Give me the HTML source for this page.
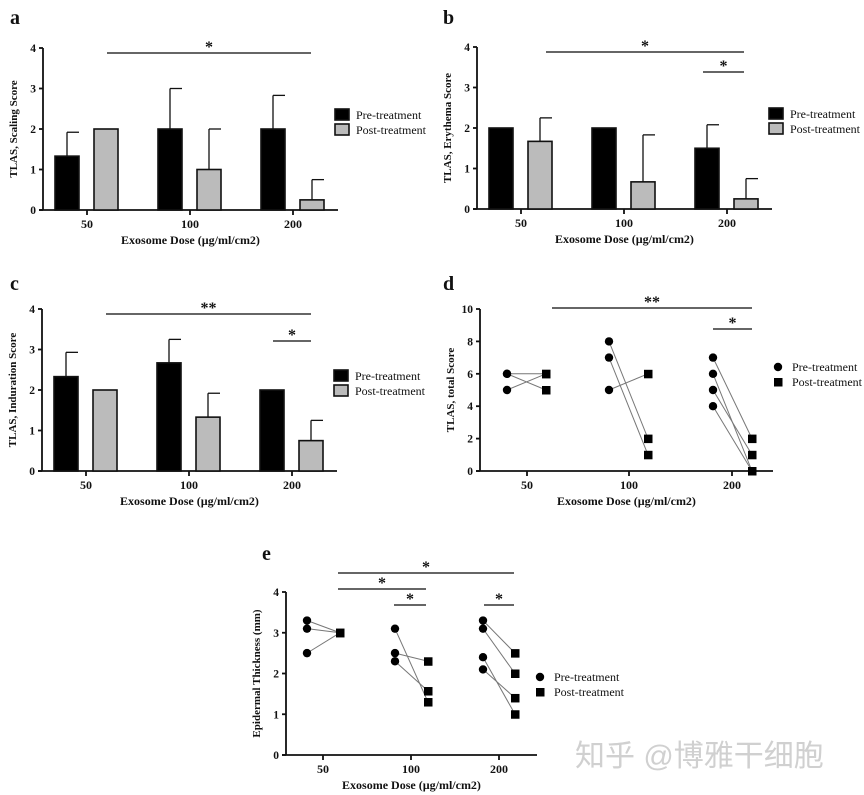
<!DOCTYPE html>
<html><head><meta charset="utf-8"><style>
html,body{margin:0;padding:0;background:#fff;width:864px;height:795px;overflow:hidden}
svg{display:block}
text{font-family:"Liberation Serif",serif;font-weight:bold;fill:#111}
</style></head><body>
<svg id="s" width="864" height="795" xmlns="http://www.w3.org/2000/svg"></svg>
<script>
var o='';
function L(x1,y1,x2,y2,w,c){o+='<line x1="'+x1+'" y1="'+y1+'" x2="'+x2+'" y2="'+y2+'" stroke="'+(c||'#111')+'" stroke-width="'+(w||1.8)+'"/>';}
function T(x,y,s,sz,a,ex){o+='<text x="'+x+'" y="'+y+'" font-size="'+(sz||12)+'" text-anchor="'+(a||'middle')+'" '+(ex||'')+'>'+s+'</text>';}
function R(x,y,w,h,f){o+='<rect x="'+x+'" y="'+y+'" width="'+w+'" height="'+h+'" fill="'+f+'" stroke="#111" stroke-width="1.6"/>';}
function axes(ax,top,bot,max,step,ytitle,xend,ticks){
  L(ax,top,ax,bot);L(ax-4,bot,xend,bot);
  var n=max/step;
  for(var i=0;i<=n;i++){var y=bot-(bot-top)*i/n;L(ax-4,y,ax,y);T(ax-7,y+4,i*step,11.5,'end');}
  ticks.forEach(function(t){L(t[0],bot,t[0],bot+5);T(t[0],bot+18,t[1],12);});
  var mx=(ax+xend)/2;T(mx,bot+34,'Exosome Dose (µg/ml/cm2)',12);
  var cy=(top+bot)/2;T(0,0,ytitle,11,'middle','transform="translate('+(ax-26)+','+cy+') rotate(-90)"');
}
function sig(x1,x2,y,s){L(x1,y,x2,y,1.4,'#333');T((x1+x2)/2,y-1,s,16);}
function barPanel(ax,top,bot,data,ytitle,sigs){
  var sc=(bot-top)/4;
  axes(ax,top,bot,4,1,ytitle,ax+295,[[ax+44,'50'],[ax+147,'100'],[ax+250,'200']]);
  data.forEach(function(d,g){
    var px=ax+12+g*103,qx=ax+51+g*103;
    [[px,d[0],d[1],'#000'],[qx,d[2],d[3],'#bbb']].forEach(function(b){
      var h=b[1]*sc;
      if(b[2]){var ey=bot-b[2]*sc;L(b[0]+12,bot-h,b[0]+12,ey,1.3);L(b[0]+12,ey,b[0]+24,ey,1.3);}
      R(b[0],bot-h,24,h,b[3]);
    });
  });
  sigs.forEach(function(s){sig(s[0],s[1],s[2],s[3]);});
  var ly=(top+bot)/2-20;
  R(ax+292,ly,14,11,'#000');T(ax+313,ly+10,'Pre-treatment',12,'start','style="font-weight:normal"');
  R(ax+292,ly+15,14,11,'#bbb');T(ax+313,ly+25,'Post-treatment',12,'start','style="font-weight:normal"');
}
T(10,24,'a',20,'start');
barPanel(43,48,210,[[1.33,1.92,2,0],[2,3,1,2],[2,2.83,0.25,0.75]],'TLAS, Scaling Score',[[107,311,53,'*']]);
T(443,24,'b',20,'start');
barPanel(477,47,209,[[2,0,1.67,2.25],[2,0,0.67,1.83],[1.5,2.08,0.25,0.75]],'TLAS, Erythema Score',[[546,744,52,'*'],[703,744,72,'*']]);
T(10,290,'c',20,'start');
barPanel(42,309,471,[[2.33,2.93,2,0],[2.67,3.25,1.33,1.92],[2,0,0.75,1.25]],'TLAS, Induration Score',[[106,311,314,'**'],[273,311,341,'*']]);
function scatter(ax,top,bot,max,step,xend,ticks,ytitle,groups,sigs,lx,ly){
  axes(ax,top,bot,max,step,ytitle,xend,ticks);
  var sc=(bot-top)/max;
  groups.forEach(function(g){g.p.forEach(function(p){L(g.x1,bot-p[0]*sc,g.x2,bot-p[1]*sc,1,'#777');});});
  groups.forEach(function(g){g.p.forEach(function(p){
    o+='<circle cx="'+g.x1+'" cy="'+(bot-p[0]*sc)+'" r="4.2" fill="#000"/>';
    o+='<rect x="'+(g.x2-4)+'" y="'+(bot-p[1]*sc-4)+'" width="8.5" height="8.5" fill="#000"/>';});});
  sigs.forEach(function(s){sig(s[0],s[1],s[2],s[3]);});
  o+='<circle cx="'+lx+'" cy="'+ly+'" r="4.2" fill="#000"/>';
  o+='<rect x="'+(lx-4)+'" y="'+(ly+11)+'" width="8.5" height="8.5" fill="#000"/>';
  T(lx+14,ly+4,'Pre-treatment',12,'start','style="font-weight:normal"');
  T(lx+14,ly+19,'Post-treatment',12,'start','style="font-weight:normal"');
}
T(443,290,'d',20,'start');
scatter(480,309,471,10,2,773,[[527,'50'],[629,'100'],[732,'200']],'TLAS, total Score',
 [{x1:507,x2:546,p:[[6,6],[6,5],[5,6]]},{x1:609,x2:648,p:[[8,2],[7,1],[5,6]]},{x1:713,x2:752,p:[[7,2],[6,0],[5,1],[4,0]]}],
 [[552,752,308,'**'],[713,752,329,'*']],778,367);
T(262,560,'e',20,'start');
scatter(286,592,755,4,1,537,[[323,'50'],[411,'100'],[499,'200']],'Epidermal Thickness (mm)',
 [{x1:307,x2:340,p:[[3.3,3],[3.1,3],[2.5,3]]},{x1:395,x2:428,p:[[3.1,1.3],[2.5,2.3],[2.3,1.57]]},{x1:483,x2:515,p:[[3.3,2.5],[3.1,2.0],[2.4,1.0],[2.1,1.4]]}],
 [[338,514,573,'*'],[338,426,589,'*'],[394,426,605,'*'],[484,514,605,'*']],540,677);
o+='<text x="575" y="766" font-size="30" style="fill:#d0d0d0;font-weight:normal;font-family:\'Liberation Sans\',\'Noto Sans CJK SC\',sans-serif">知乎 @博雅干细胞</text>';
document.getElementById('s').innerHTML=o;
</script>
</body></html>
